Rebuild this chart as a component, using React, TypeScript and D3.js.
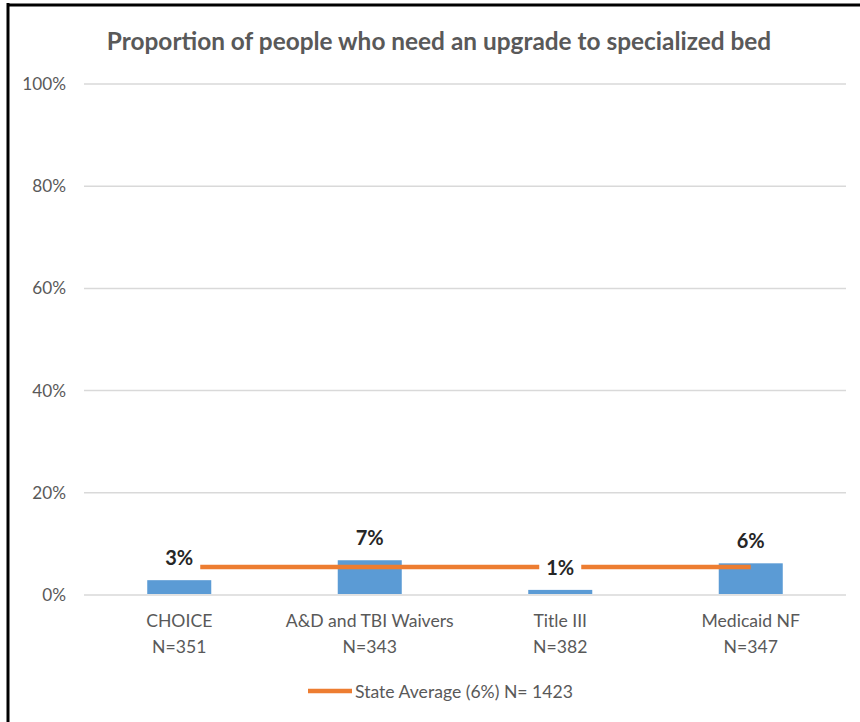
import React from "react";
import * as d3 from "d3";

const categories = ["CHOICE", "A&D and TBI Waivers", "Title III", "Medicaid NF"];
const sampleSizes = ["N=351", "N=343", "N=382", "N=347"];
const values = [0.029, 0.068, 0.01, 0.062];
const valueLabels = ["3%", "7%", "1%", "6%"];
const stateAverage = [0.055, 0.055, 0.055, 0.055];
const yTicks = [0, 0.2, 0.4, 0.6, 0.8, 1.0];
const title = "Proportion of people who need an upgrade to specialized bed";
const legendLabel = "State Average (6%) N= 1423";

const W = 860;
const H = 722;
const FONT = "Lato, 'Open Sans', sans-serif";
const TEXT = "#595959";

export default function App() {
  const x = d3.scaleBand<string>().domain(categories).range([84, 846]).paddingInner(0).paddingOuter(0);
  const y = d3.scaleLinear().domain([0, 1]).range([595, 84]);
  const barW = x.bandwidth() * 0.336;
  const cx = (c: string) => (x(c) as number) + x.bandwidth() / 2;
  const line = d3
    .line<number>()
    .x((_, i) => cx(categories[i]))
    .y((d) => y(d));

  return (
    <svg
      width={W}
      height={H}
      style={{ position: "absolute", left: 0, top: 0, background: "#fff" }}
    >
      <rect x={0} y={0} width={W} height={H} fill="#fff" />
      {/* frame */}
      <line x1={8} y1={3} x2={8} y2={H} stroke="#000" strokeWidth={3} />
      <line x1={7} y1={5} x2={W} y2={5} stroke="#000" strokeWidth={3} />

      <text
        x={439}
        y={50}
        textAnchor="middle"
        fontFamily={FONT}
        fontWeight="bold"
        fontSize={24.4}
        fill={TEXT}
      >
        {title}
      </text>

      {yTicks.map((t) => (
        <g key={t}>
          <line x1={84} x2={846} y1={y(t)} y2={y(t)} stroke="#d9d9d9" strokeWidth={1.5} />
          <text
            x={66}
            y={y(t)}
            dy="0.35em"
            textAnchor="end"
            fontFamily={FONT}
            fontSize={17.2}
            fill={TEXT}
          >
            {d3.format(".0%")(t)}
          </text>
        </g>
      ))}

      {categories.map((c, i) => (
        <rect
          key={c}
          x={cx(c) - barW / 2}
          y={y(values[i])}
          width={barW}
          height={y(0) - y(values[i]) - 1}
          fill="#5B9BD5"
        />
      ))}

      <path d={line(stateAverage) || ""} fill="none" stroke="#ED7D31" strokeWidth={4.5} />

      {categories.map((c, i) => {
        const ly = y(values[i]) - 22;
        return (
          <g key={c + "lab"}>
            <rect x={cx(c) - 21} y={ly - 14} width={42} height={28} fill="#fff" />
            <text
              x={cx(c)}
              y={ly}
              dy="0.35em"
              textAnchor="middle"
              fontFamily={FONT}
              fontWeight="bold"
              fontSize={20}
              fill="#262626"
            >
              {valueLabels[i]}
            </text>
          </g>
        );
      })}

      {categories.map((c, i) => (
        <text
          key={c + "x"}
          x={cx(c)}
          textAnchor="middle"
          fontFamily={FONT}
          fontSize={17.6}
          fill={TEXT}
        >
          <tspan x={cx(c)} y={627}>
            {c}
          </tspan>
          <tspan x={cx(c)} y={653}>
            {sampleSizes[i]}
          </tspan>
        </text>
      ))}

      <line x1={308} x2={352} y1={691} y2={691} stroke="#ED7D31" strokeWidth={4.5} />
      <text x={355} y={692} dy="0.35em" fontFamily={FONT} fontSize={17.6} fill={TEXT}>
        {legendLabel}
      </text>
    </svg>
  );
}
